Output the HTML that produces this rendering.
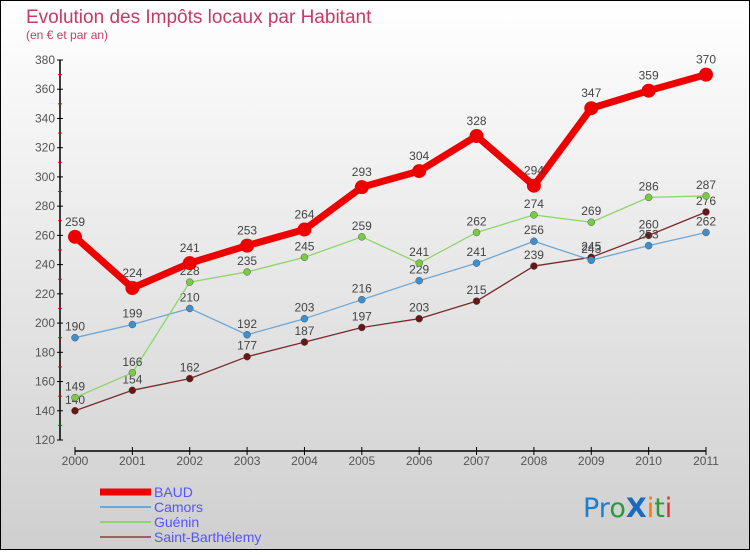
<!DOCTYPE html>
<html><head><meta charset="utf-8"><style>
html,body{margin:0;padding:0}
body{width:750px;height:550px;overflow:hidden;font-family:"Liberation Sans","DejaVu Sans",sans-serif}
</style></head><body>
<svg id="chart" width="750" height="550" xmlns="http://www.w3.org/2000/svg">
<defs><linearGradient id="bg" x1="0" y1="0" x2="0" y2="1"><stop offset="0" stop-color="#ffffff"/><stop offset="1" stop-color="#cfcfcf"/></linearGradient></defs>
<rect x="0.5" y="0.5" width="749" height="549" fill="url(#bg)" stroke="#000"/>
<text x="26" y="23" font-size="19" fill="#c83a66">Evolution des Impôts locaux par Habitant</text>
<text x="26" y="39" font-size="12" fill="#c83a66">(en € et par an)</text>
<g id="axes"></g>
<g id="series"></g>
<g id="legend"></g>
<text x="583" y="517" font-size="27" font-family="'DejaVu Sans',sans-serif"><tspan fill="#1a7fd0">Pr</tspan><tspan fill="#2a9a3a">o</tspan><tspan fill="#1a6ac0" font-weight="bold">X</tspan><tspan fill="#f07a10">i</tspan><tspan fill="#2a9a3a">t</tspan><tspan fill="#e03030">i</tspan></text>
</svg>
<script>
const years=[2000,2001,2002,2003,2004,2005,2006,2007,2008,2009,2010,2011];
const baud=[259,224,241,253,264,293,304,328,294,347,359,370];
const camors=[190,199,210,192,203,216,229,241,256,243,253,262];
const guenin=[149,166,228,235,245,259,241,262,274,269,286,287];
const stBarth=[140,154,162,177,187,197,203,215,239,245,260,276];
const yTicks=[120,140,160,180,200,220,240,260,280,300,320,340,360,380];
const NS="http://www.w3.org/2000/svg";
const x=i=>75+i*(706-75)/11;
const y=v=>60+(380-v)*(380/260);
function mk(tag,attrs,parent,txt){const e=document.createElementNS(NS,tag);for(const k in attrs)e.setAttribute(k,attrs[k]);if(txt!==undefined)e.textContent=txt;parent.appendChild(e);return e;}
const axes=document.getElementById('axes');
let a=mk('line',{x1:60,y1:y(380),x2:60,y2:y(120),stroke:'#000','stroke-width':1.5},axes);


yTicks.forEach(t=>{
  mk('line',{x1:57,x2:63,y1:y(t),y2:y(t),stroke:'#000'},axes);
  if(t<380)mk('line',{x1:58,x2:62,y1:y(t+10),y2:y(t+10),stroke:'#e00'},axes);
  const l=mk('text',{x:55,y:y(t)+4,'text-anchor':'end','font-size':12,fill:'#555'},axes,t);
  
  
});
const xa=mk('line',{x1:75,x2:706,y1:451,y2:451,stroke:'#000','stroke-width':1.5},axes);


years.forEach((yr,i)=>{
  mk('line',{x1:x(i),x2:x(i),y1:447,y2:455,stroke:'#000'},axes);
  const l=mk('text',{x:x(i),y:465,'text-anchor':'middle','font-size':12,fill:'#555'},axes,yr);
  
  
});
const series=[
 {name:'Saint-Barthélemy',key:'saint-barthelemy',data:stBarth,color:'#7a2a2a',dot:'#6a1515',w:1.3,r:3.5},
 {name:'Camors',key:'camors',data:camors,color:'#6fa7d6',dot:'#3d8fd0',w:1.3,r:3.5},
 {name:'Guénin',key:'guenin',data:guenin,color:'#8ed66a',dot:'#77cc44',w:1.3,r:3.5},
 {name:'BAUD',key:'baud',data:baud,color:'#ee0000',dot:'#ee0000',w:7,r:7}
];
const sg=document.getElementById('series');
series.forEach(s=>{
  const g=mk('g',{},sg);
  
  
  const p=mk('polyline',{points:s.data.map((v,i)=>x(i)+','+y(v)).join(' '),fill:'none',stroke:s.color,'stroke-width':s.w,'stroke-linejoin':'round'},g);
  
  
  s.data.forEach((v,i)=>{
    const c=mk('circle',{cx:x(i),cy:y(v),r:s.r,fill:s.dot,stroke:s.r<5?'#555':'none','stroke-width':0.5},g);
    
    
    const t=mk('text',{x:x(i),y:y(v)-(s.r<5?7:11),'text-anchor':'middle','font-size':12,fill:'#444'},g,v);
    
    
  });
});
const lg=document.getElementById('legend');
const leg=[['BAUD','#ee0000',7],['Camors','#6fa7d6',2],['Guénin','#8ed66a',2],['Saint-Barthélemy','#a06060',2]];
leg.forEach((l,i)=>{
  const yy=492+i*15;
  const g=mk('g',{},lg);
  
  
  mk('line',{x1:100,x2:151,y1:yy,y2:yy,stroke:l[1],'stroke-width':l[2]},g);
  mk('text',{x:154,y:yy+5,'font-size':14,fill:'#5555ff'},g,l[0]);
});
</script>
</body></html>
